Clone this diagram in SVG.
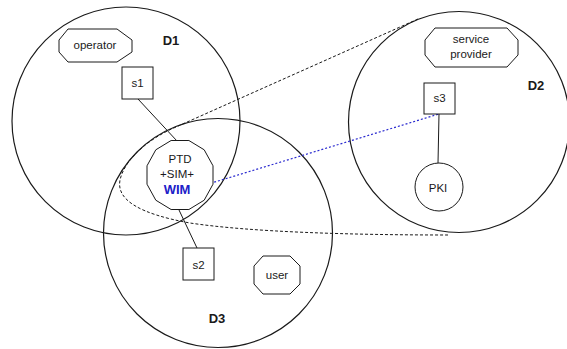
<svg xmlns="http://www.w3.org/2000/svg" width="567" height="349" viewBox="0 0 567 349">
  <style>
    .dom { fill: none; stroke: #1a1a1a; stroke-width: 1.2; }
    .shape { fill: #ffffff; stroke: #1a1a1a; stroke-width: 1; }
    .link { fill: none; stroke: #1a1a1a; stroke-width: 1; }
    .cone { fill: none; stroke: #1a1a1a; stroke-width: 1; stroke-dasharray: 3 2; }
    .wim { fill: none; stroke: #2a2ad0; stroke-width: 1.2; stroke-dasharray: 2 2; }
    .t { font-family: "Liberation Sans", Arial, sans-serif; font-size: 11.5px; fill: #1a1a1a; text-anchor: middle; }
    .lbl { font-family: "Liberation Sans", Arial, sans-serif; font-size: 13px; font-weight: bold; fill: #1a1a1a; text-anchor: middle; }
  </style>
  <rect width="567" height="349" fill="#ffffff"/>

  <!-- domains -->
  <g id="D1"><circle class="dom" cx="126" cy="121" r="114"/><text class="lbl" x="171" y="45">D1</text></g>
  <g id="D3"><circle class="dom" cx="218" cy="233" r="114.5"/><text class="lbl" x="217" y="323">D3</text></g>
  <g id="D2"><circle class="dom" cx="459" cy="122" r="110.5"/><text class="lbl" x="536" y="90">D2</text></g>

  <!-- connectors -->
  <g id="connectors">
    <path class="cone" d="M418,19 L176,127 C150,138 125,158 120,180 C116,200 140,214 190,223 C250,232 350,235 448,235"/>
    <line class="link" x1="138" y1="99" x2="177" y2="141"/>
    <line class="link" x1="179" y1="210" x2="197" y2="248"/>
    <line class="link" x1="439" y1="114" x2="438" y2="163"/>
    <line class="wim" x1="195" y1="188" x2="439" y2="114"/>
  </g>

  <g id="operator">
    <polygon class="shape" points="68,29 117,29 132,40 132,52 117,62 68,62 59,52 59,40"/>
    <text class="t" x="95" y="49">operator</text>
  </g>
  <g id="s1">
    <rect class="shape" x="122" y="67" width="31" height="32"/>
    <text class="t" x="137.5" y="87">s1</text>
  </g>
  <g id="PTD">
    <polygon class="shape" points="213,184.2 204.2,200.2 188.9,209.5 171.1,209.5 155.8,200.2 147,184.2 147,165.8 155.8,149.8 171.1,140.5 188.9,140.5 204.2,149.8 213,165.8"/>
    <text class="t" x="180" y="163">PTD</text>
    <text class="t" x="177" y="178">+SIM+</text>
    <text class="t" x="177" y="194" style="font-size:13px;font-weight:bold;fill:#2020c8">WIM</text>
  </g>
  <g id="s2">
    <rect class="shape" x="183" y="248" width="31" height="32"/>
    <text class="t" x="198.5" y="269">s2</text>
  </g>
  <g id="user">
    <polygon class="shape" points="263,256 290,256 300,266 300,284 290,294 263,294 254,284 254,266"/>
    <text class="t" x="277" y="279">user</text>
  </g>
  <g id="service-provider">
    <polygon class="shape" points="435,28 507,28 518,40 518,55 507,67 435,67 425,55 425,40"/>
    <text class="t" x="471" y="43">service</text>
    <text class="t" x="471" y="58">provider</text>
  </g>
  <g id="s3">
    <rect class="shape" x="424" y="83" width="31" height="31"/>
    <text class="t" x="439.5" y="102">s3</text>
  </g>
  <g id="PKI">
    <circle class="shape" cx="439" cy="187" r="24"/>
    <text class="t" x="438" y="192">PKI</text>
  </g>
</svg>
